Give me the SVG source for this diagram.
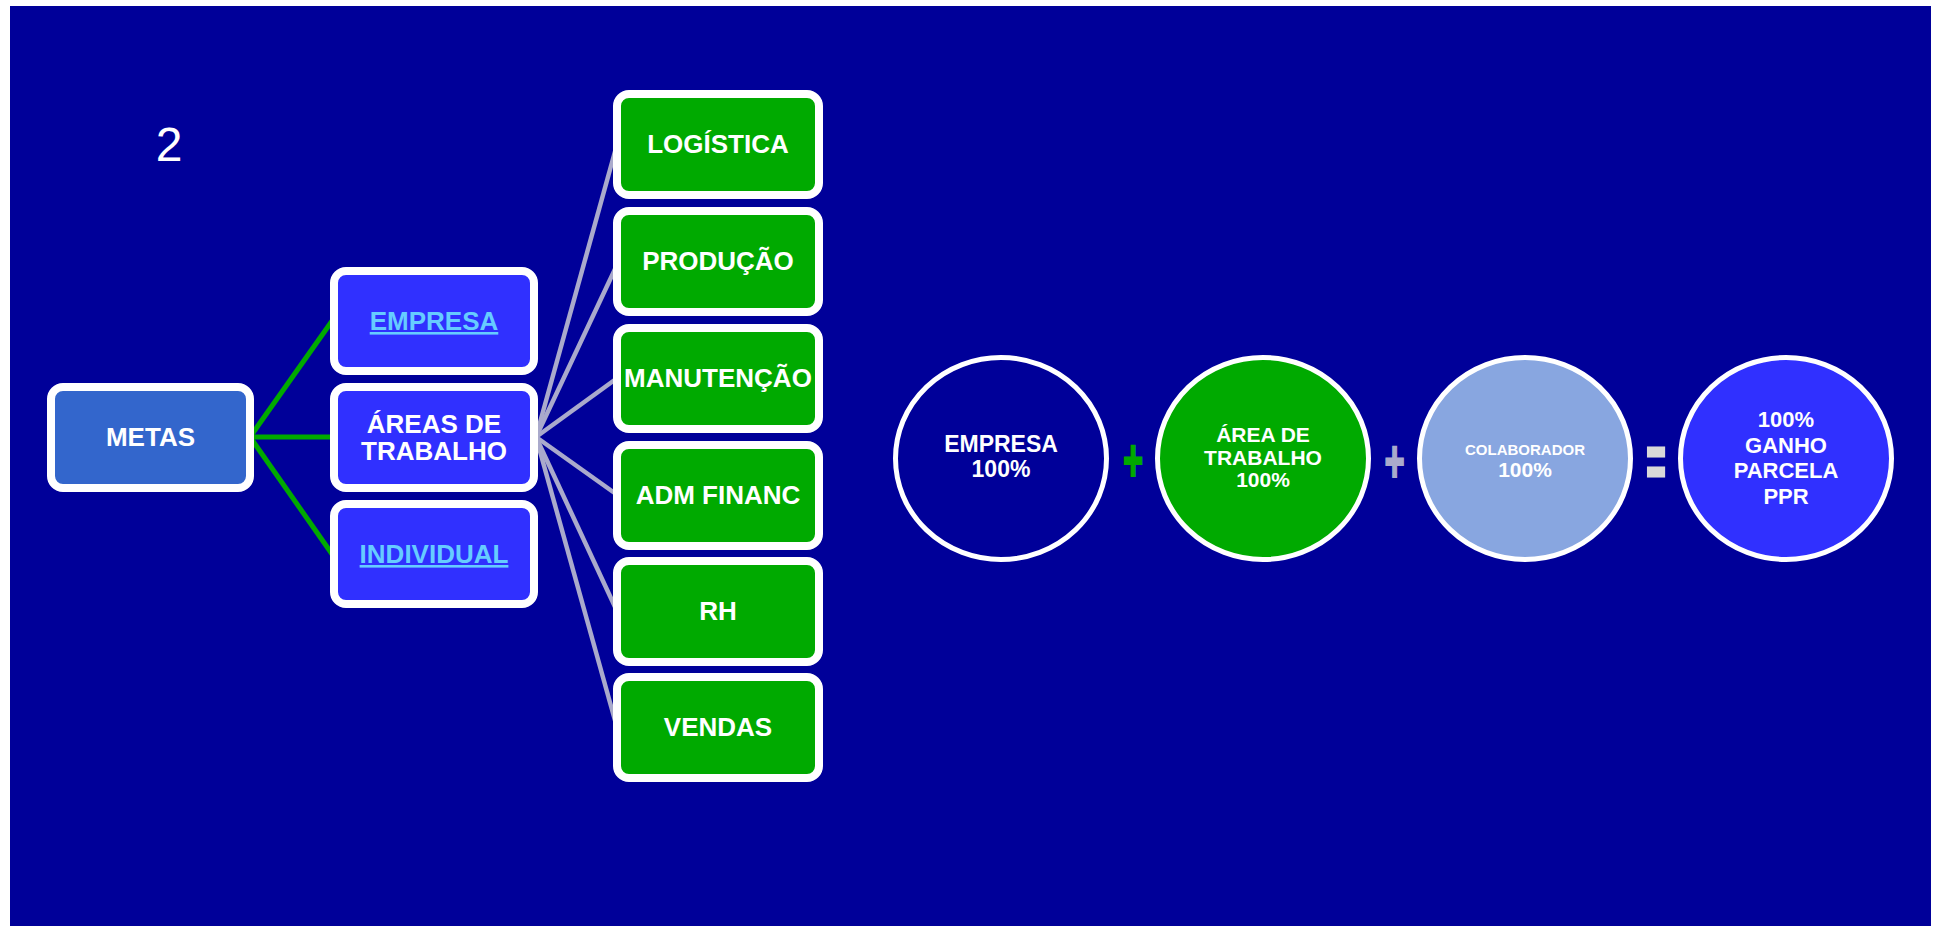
<svg xmlns="http://www.w3.org/2000/svg" width="1934" height="926" viewBox="0 0 1934 926">
<style>
.t{font-family:"Liberation Sans",Arial,sans-serif;font-weight:bold;fill:#FFFFFF;text-anchor:middle}
.box{stroke:#FFFFFF;stroke-width:8}
.g{fill:#00AA00}
.b{fill:#3030FF}
.lnk{fill:#66CCFF;text-decoration:underline}
.circ{stroke:#FFFFFF;stroke-width:5}
.gl{stroke:#00AA00;stroke-width:5;fill:none}
.sl{stroke:#AAAACC;stroke-width:4.5;fill:none}
</style>
<rect x="0" y="0" width="1934" height="926" fill="#FFFFFF"/>
<rect x="10" y="6" width="1921" height="920" fill="#000099"/>
<text x="169" y="161" font-family="Liberation Sans, Arial, sans-serif" font-size="48" fill="#FFFFFF" text-anchor="middle">2</text>
<g id="connectors">
<line class="gl" x1="250" y1="437" x2="332" y2="321"/>
<line class="gl" x1="250" y1="437" x2="332" y2="437"/>
<line class="gl" x1="250" y1="437" x2="332" y2="554"/>
<line class="sl" x1="536" y1="437" x2="616" y2="148"/>
<line class="sl" x1="536" y1="437" x2="616" y2="267"/>
<line class="sl" x1="536" y1="437" x2="616" y2="379"/>
<line class="sl" x1="536" y1="437" x2="616" y2="494"/>
<line class="sl" x1="536" y1="437" x2="616" y2="609"/>
<line class="sl" x1="536" y1="437" x2="616" y2="724"/>
</g>
<g id="metas">
<rect class="box" x="51" y="387" width="199" height="101" rx="12" fill="#3366CC"/>
<text class="t" x="150.5" y="446" font-size="26">METAS</text>
</g>
<g id="empresa">
<rect class="box b" x="334" y="271" width="200" height="100" rx="12"/>
<text class="t lnk" x="434" y="330" font-size="26">EMPRESA</text>
</g>
<g id="areas">
<rect class="box b" x="334" y="387" width="200" height="101" rx="12"/>
<text class="t" x="434" y="433" font-size="26">ÁREAS DE</text>
<text class="t" x="434" y="460" font-size="26">TRABALHO</text>
</g>
<g id="individual">
<rect class="box b" x="334" y="504" width="200" height="100" rx="12"/>
<text class="t lnk" x="434" y="563" font-size="26">INDIVIDUAL</text>
</g>
<g id="logistica">
<rect class="box g" x="617" y="94" width="202" height="101" rx="12"/>
<text class="t" x="718" y="153" font-size="26">LOGÍSTICA</text>
</g>
<g id="producao">
<rect class="box g" x="617" y="211" width="202" height="101" rx="12"/>
<text class="t" x="718" y="270" font-size="26">PRODUÇÃO</text>
</g>
<g id="manutencao">
<rect class="box g" x="617" y="328" width="202" height="101" rx="12"/>
<text class="t" x="718" y="387" font-size="26">MANUTENÇÃO</text>
</g>
<g id="admfinanc">
<rect class="box g" x="617" y="445" width="202" height="101" rx="12"/>
<text class="t" x="718" y="504" font-size="26">ADM FINANC</text>
</g>
<g id="rh">
<rect class="box g" x="617" y="561" width="202" height="101" rx="12"/>
<text class="t" x="718" y="620" font-size="26">RH</text>
</g>
<g id="vendas">
<rect class="box g" x="617" y="677" width="202" height="101" rx="12"/>
<text class="t" x="718" y="736" font-size="26">VENDAS</text>
</g>
<g id="c-empresa">
<ellipse class="circ" cx="1001" cy="458.5" rx="105.5" ry="101" fill="#000099"/>
<text class="t" x="1001" y="452" font-size="23">EMPRESA</text>
<text class="t" x="1001" y="477" font-size="23">100%</text>
</g>
<g id="plus1">
<text class="t" transform="translate(1133,481) scale(0.75,1.3)" x="0" y="0" font-size="46" stroke="#00AA00" stroke-width="1.5" style="fill:#00AA00">+</text>
</g>
<g id="c-area">
<ellipse class="circ" cx="1263" cy="458.5" rx="105.5" ry="101" fill="#00AA00"/>
<text class="t" x="1263" y="442" font-size="21">ÁREA DE</text>
<text class="t" x="1263" y="465" font-size="21">TRABALHO</text>
<text class="t" x="1263" y="487" font-size="21">100%</text>
</g>
<g id="plus2">
<text class="t" transform="translate(1394.5,482) scale(0.75,1.3)" x="0" y="0" font-size="46" stroke="#AAAACC" stroke-width="1.5" style="fill:#AAAACC">+</text>
</g>
<g id="c-colab">
<ellipse class="circ" cx="1525" cy="458.5" rx="105.5" ry="101" fill="#88A6E0"/>
<text class="t" x="1525" y="455" font-size="15">COLABORADOR</text>
<text class="t" x="1525" y="477" font-size="21">100%</text>
</g>
<g id="equals">
<text class="t" transform="translate(1656,487) scale(0.67,1.5)" x="0" y="0" font-size="50" stroke="#D9D9D9" stroke-width="2" style="fill:#D9D9D9">=</text>
</g>
<g id="c-ppr">
<ellipse class="circ" cx="1786" cy="458.5" rx="105.5" ry="101" fill="#3030FF"/>
<text class="t" x="1786" y="427" font-size="22">100%</text>
<text class="t" x="1786" y="452.5" font-size="22">GANHO</text>
<text class="t" x="1786" y="478" font-size="22">PARCELA</text>
<text class="t" x="1786" y="503.5" font-size="22">PPR</text>
</g>
</svg>
